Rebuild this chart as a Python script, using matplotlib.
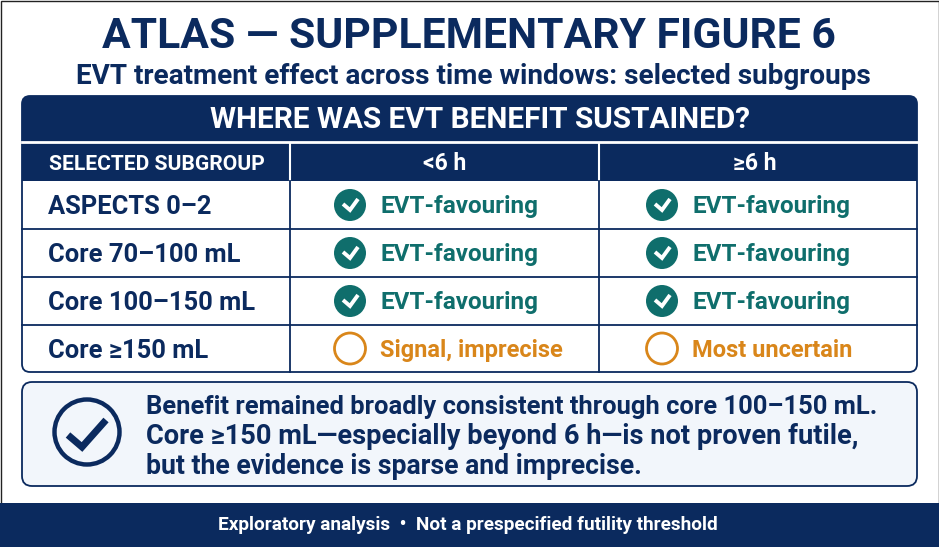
import matplotlib
matplotlib.use("Agg")
import matplotlib.pyplot as plt
from matplotlib.patches import Circle, FancyBboxPatch, Rectangle

NAVY = '#0b2a5e'
TEAL = '#0f6e6c'
ORANGE = '#d9861a'

title = 'ATLAS — SUPPLEMENTARY FIGURE 6'
subtitle = 'EVT treatment effect across time windows: selected subgroups'
banner = 'WHERE WAS EVT BENEFIT SUSTAINED?'
col_heads = ['SELECTED SUBGROUP', '<6 h', '≥6 h']
subgroups = ['ASPECTS 0–2', 'Core 70–100 mL', 'Core 100–150 mL', 'Core ≥150 mL']
early = ['EVT-favouring', 'EVT-favouring', 'EVT-favouring', 'Signal, imprecise']
late = ['EVT-favouring', 'EVT-favouring', 'EVT-favouring', 'Most uncertain']
early_ok = [True, True, True, False]
late_ok = [True, True, True, False]
callout = ['Benefit remained broadly consistent through core 100–150 mL.',
           'Core ≥150 mL—especially beyond 6 h—is not proven futile,',
           'but the evidence is sparse and imprecise.']
footer = 'Exploratory analysis  •  Not a prespecified futility threshold'

plt.rcParams['font.family'] = ['Roboto', 'DejaVu Sans']
plt.rcParams['font.weight'] = 'bold'

fig = plt.figure(figsize=(9.39, 5.47), dpi=100, facecolor='white')
ax = fig.add_axes([0, 0, 1, 1])
ax.set_xlim(0, 939)
ax.set_ylim(547, 0)
ax.axis('off')

# frame round the picture
ax.add_patch(Rectangle((0.5, 0.5), 938, 546, fc='none', ec='#222222', lw=1))

ax.text(468.5, 36, title, color=NAVY, fontsize=30.7, ha='center', va='center')
ax.text(473.5, 76, subtitle, color=NAVY, fontsize=20.1, ha='center', va='center')

# table body and header bands
left, right = 22, 917
ax.add_patch(FancyBboxPatch((left, 96), right - left, 276, boxstyle='round,pad=0,rounding_size=8',
                            fc='white', ec=NAVY, lw=1.3))
clip = FancyBboxPatch((left, 96), right - left, 276, boxstyle='round,pad=0,rounding_size=8',
                      transform=ax.transData, fc='none', ec='none')
ax.add_patch(clip)
band = Rectangle((left, 96), right - left, 85, fc=NAVY, ec='none')
ax.add_patch(band)
band.set_clip_path(clip)
ax.plot([left, right], [142, 142], color='white', lw=2)
ax.text(480, 120, banner, color='white', fontsize=21.4, ha='center', va='center')

col_x = [290, 599]
row_y = [181, 229, 277, 325, 372]
for x in col_x:
    ax.plot([x, x], [143, 181], color='white', lw=1.5)
    ax.plot([x, x], [181, 372], color=NAVY, lw=1.3)
for y in row_y[1:-1]:
    ax.plot([left, right], [y, y], color=NAVY, lw=1.3)

ax.text(49, 164, col_heads[0], color='white', fontsize=15.1, ha='left', va='center')
ax.text(445, 164, col_heads[1], color='white', fontsize=16.5, ha='center', va='center')
ax.text(755, 164, col_heads[2], color='white', fontsize=16.5, ha='center', va='center')


def status(cx, tx, y, label, ok):
    if ok:
        ax.add_patch(Circle((cx, y), 16, fc=TEAL, ec='none'))
        ax.plot([cx - 7, cx, cx + 8], [y - 1, y + 5, y - 6], color='white', lw=2.8,
                solid_capstyle='butt', solid_joinstyle='miter')
        ax.text(tx, y + 2, label, color=TEAL, fontsize=17.5, ha='left', va='center')
    else:
        ax.add_patch(Circle((cx, y), 15.5, fc='white', ec=ORANGE, lw=2))
        ax.text(tx, y + 2, label, color=ORANGE, fontsize=17, ha='left', va='center')


for i in range(len(subgroups)):
    y = (row_y[i] + row_y[i + 1]) / 2
    ax.text(48, y + 2.5, subgroups[i], color=NAVY, fontsize=18.4, ha='left', va='center')
    status(350, 380, y, early[i], early_ok[i])
    status(662, 692, y, late[i], late_ok[i])

# callout
ax.add_patch(FancyBboxPatch((left, 382), right - left, 104, boxstyle='round,pad=0,rounding_size=10',
                            fc='#f2f6fb', ec=NAVY, lw=1.3))
ax.add_patch(Circle((87, 432), 32.5, fc='none', ec=NAVY, lw=3.2))
ax.plot([68, 82, 106], [435, 447, 420], color=NAVY, lw=5, solid_capstyle='butt', solid_joinstyle='miter')
for y, line, size in zip([407, 437, 467], callout, [18.4, 19.6, 19.2]):
    ax.text(146, y, line, color=NAVY, fontsize=size, ha='left', va='center')

# footer
ax.add_patch(Rectangle((0, 503), 939, 44, fc=NAVY, ec='none'))
ax.text(468, 525, footer, color='white', fontsize=13.7, ha='center', va='center')

plt.savefig('out.png', dpi=100)
